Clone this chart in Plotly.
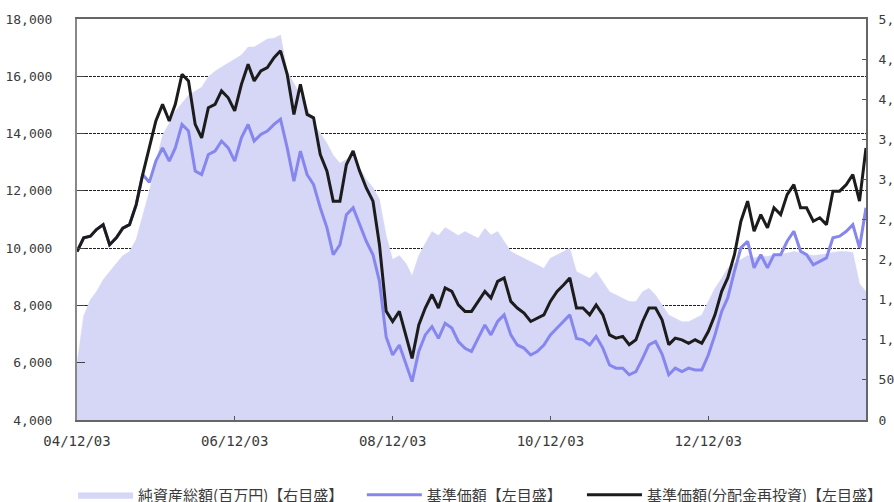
import pandas as pd
import plotly.graph_objects as go

# monthly readings from 2004/12/03 to 2014/12/03
dates = pd.date_range("2004-12-03", periods=121, freq=pd.DateOffset(months=1))

# 基準価額(分配金再投資) - left axis
nav_reinvested = [
    9880, 10360, 10415, 10650, 10820, 10120, 10360, 10700, 10820, 11520,
    12570, 13500, 14440, 15020, 14440, 15020, 16070, 15840, 14320, 13850,
    14900, 15020, 15490, 15250, 14790, 15720, 16420, 15840, 16190, 16300,
    16650, 16890, 16070, 14670, 15720, 14670, 14550, 13270, 12690, 11640,
    11640, 12920, 13390, 12690, 12100, 11640, 10120, 7800, 7440, 7790,
    6970, 6150, 7320, 7910, 8380, 7910, 8610, 8490, 8020, 7790,
    7790, 8140, 8490, 8260, 8840, 8960, 8140, 7910, 7730, 7440,
    7560, 7670, 8140, 8490, 8720, 8960, 7910, 7910, 7670, 8020,
    7670, 6970, 6860, 6920, 6630, 6800, 7440, 7910, 7910, 7500,
    6630, 6860, 6800, 6680, 6800, 6680, 7090, 7670, 8490, 8960,
    9770, 10940, 11640, 10590, 11170, 10710, 11410, 11170, 11870, 12220,
    11410, 11410, 10940, 11060, 10820, 11990, 11990, 12220, 12570, 11640,
    13500,
]

# 基準価額 - left axis
nav = [
    9880, 10360, 10415, 10650, 10820, 10120, 10360, 10700, 10820, 11520,
    12570, 12300, 13040, 13500, 13040, 13500, 14320, 14090, 12690, 12570,
    13270, 13390, 13740, 13500, 13040, 13850, 14320, 13740, 13970, 14090,
    14320, 14500, 13500, 12340, 13390, 12570, 12220, 11410, 10710, 9770,
    10120, 11170, 11410, 10830, 10240, 9770, 8840, 6900, 6270, 6620,
    5920, 5340, 6390, 6970, 7260, 6850, 7380, 7210, 6740, 6500,
    6390, 6850, 7320, 6970, 7440, 7670, 6970, 6620, 6510, 6270,
    6390, 6620, 6970, 7210, 7440, 7670, 6850, 6800, 6620, 6920,
    6510, 5920, 5810, 5810, 5580, 5690, 6150, 6620, 6740, 6300,
    5580, 5810, 5690, 5810, 5750, 5750, 6270, 6970, 7790, 8260,
    9190, 10010, 10240, 9310, 9770, 9310, 9770, 9770, 10240, 10590,
    9890, 9770, 9420, 9540, 9660, 10360, 10420, 10590, 10820, 10010,
    11410,
]

# 純資産総額(百万円) - right axis
net_assets = [
    700, 1300, 1500, 1600, 1750, 1850, 1950, 2050, 2100, 2250,
    2550, 2850, 3200, 3550, 3700, 3850, 3950, 4050, 4100, 4150,
    4280, 4350, 4400, 4450, 4500, 4550, 4650, 4650, 4700, 4750,
    4760, 4800, 4350, 4200, 4050, 3900, 3700, 3570, 3450, 3300,
    3200, 3250, 3300, 3150, 3000, 2900, 2750, 2300, 2000, 2050,
    1950, 1800, 2050, 2200, 2350, 2300, 2400, 2350, 2300, 2350,
    2306, 2265, 2390, 2306, 2350, 2224, 2100, 2057, 2016, 1975,
    1933, 1891, 2016, 2057, 2100, 2140, 1850, 1808, 1767, 1850,
    1725, 1600, 1559, 1517, 1476, 1476, 1600, 1642, 1559, 1434,
    1309, 1268, 1226, 1226, 1268, 1309, 1476, 1642, 1767, 1891,
    1950, 2000, 2050, 2020, 2050, 2040, 2060, 2070, 2080, 2100,
    2080, 2070, 2050, 2060, 2070, 2090, 2100, 2100, 2090, 1700,
    1600,
]

x_ticks = ["2004-12-03", "2006-12-03", "2008-12-03", "2010-12-03", "2012-12-03"]

num_font = dict(family="DejaVu Sans Mono, monospace", size=13, color="#3a3a3a")
leg_font = dict(family="Noto Sans CJK JP, sans-serif", size=15, color="#3a3a3a")

fig = go.Figure()

fig.add_trace(go.Scatter(
    x=dates, y=net_assets, name="純資産総額(百万円)【右目盛】",
    mode="lines", line=dict(width=0.5, color="#d6d6f7"),
    fill="tozeroy", fillcolor="#d6d6f7", yaxis="y", legend="legend",
))
fig.add_trace(go.Scatter(
    x=dates, y=nav, name="基準価額【左目盛】",
    mode="lines", line=dict(width=3, color="#8686ef"), yaxis="y2", legend="legend2",
))
fig.add_trace(go.Scatter(
    x=dates, y=nav_reinvested, name="基準価額(分配金再投資)【左目盛】",
    mode="lines", line=dict(width=3, color="#1c1c1c"), yaxis="y2", legend="legend3",
))

leg_common = dict(orientation="h", yanchor="middle", y=-0.187, xanchor="left",
                  font=leg_font, itemwidth=55, bgcolor="rgba(0,0,0,0)")

fig.update_layout(
    width=894, height=502,
    margin=dict(l=77, r=28, t=19, b=82, autoexpand=False),
    paper_bgcolor="white", plot_bgcolor="white",
    font=dict(family="Noto Sans CJK JP, sans-serif", size=11, color="#333333"),
    showlegend=True,
    legend=dict(x=-0.005, **leg_common),
    legend2=dict(x=0.361, **leg_common),
    legend3=dict(x=0.64, **leg_common),
    xaxis=dict(
        type="date", range=["2004-12-03", "2014-12-03"],
        tickvals=x_ticks, tickformat="%y/%m/%d",
        ticks="inside", ticklen=4, tickcolor="#555555",
        showgrid=False, showline=True, linecolor="#666666", linewidth=2, mirror=True,
        tickfont=dict(family="DejaVu Sans Mono, monospace", size=14, color="#3a3a3a"),
        ticklabelstandoff=7,
    ),
    # right axis: net assets (drawn underneath)
    yaxis=dict(
        side="right", range=[0, 5000], dtick=500, tickformat=",d",
        ticks="inside", ticklen=4, tickcolor="#555555",
        showgrid=False, showline=True, linecolor="#666666", linewidth=2,
        tickfont=num_font, automargin=False, ticklabelstandoff=8,
    ),
    # left axis: NAV lines
    yaxis2=dict(
        side="left", overlaying="y", range=[4000, 18000], dtick=2000, tickformat=",d",
        ticks="inside", ticklen=8, tickcolor="#444444",
        showgrid=True, gridcolor="#222222", gridwidth=1, griddash="3px,1px",
        showline=True, linecolor="#888888", linewidth=2,
        tickfont=num_font, automargin=False, ticklabelstandoff=20,
        zeroline=False,
    ),
)

# drop the page's default body margin so the figure sits at the window's corner
fig.write_html("out.html", config={"displayModeBar": False},
               post_script="document.body.style.margin='0';document.body.style.overflow='hidden';")
